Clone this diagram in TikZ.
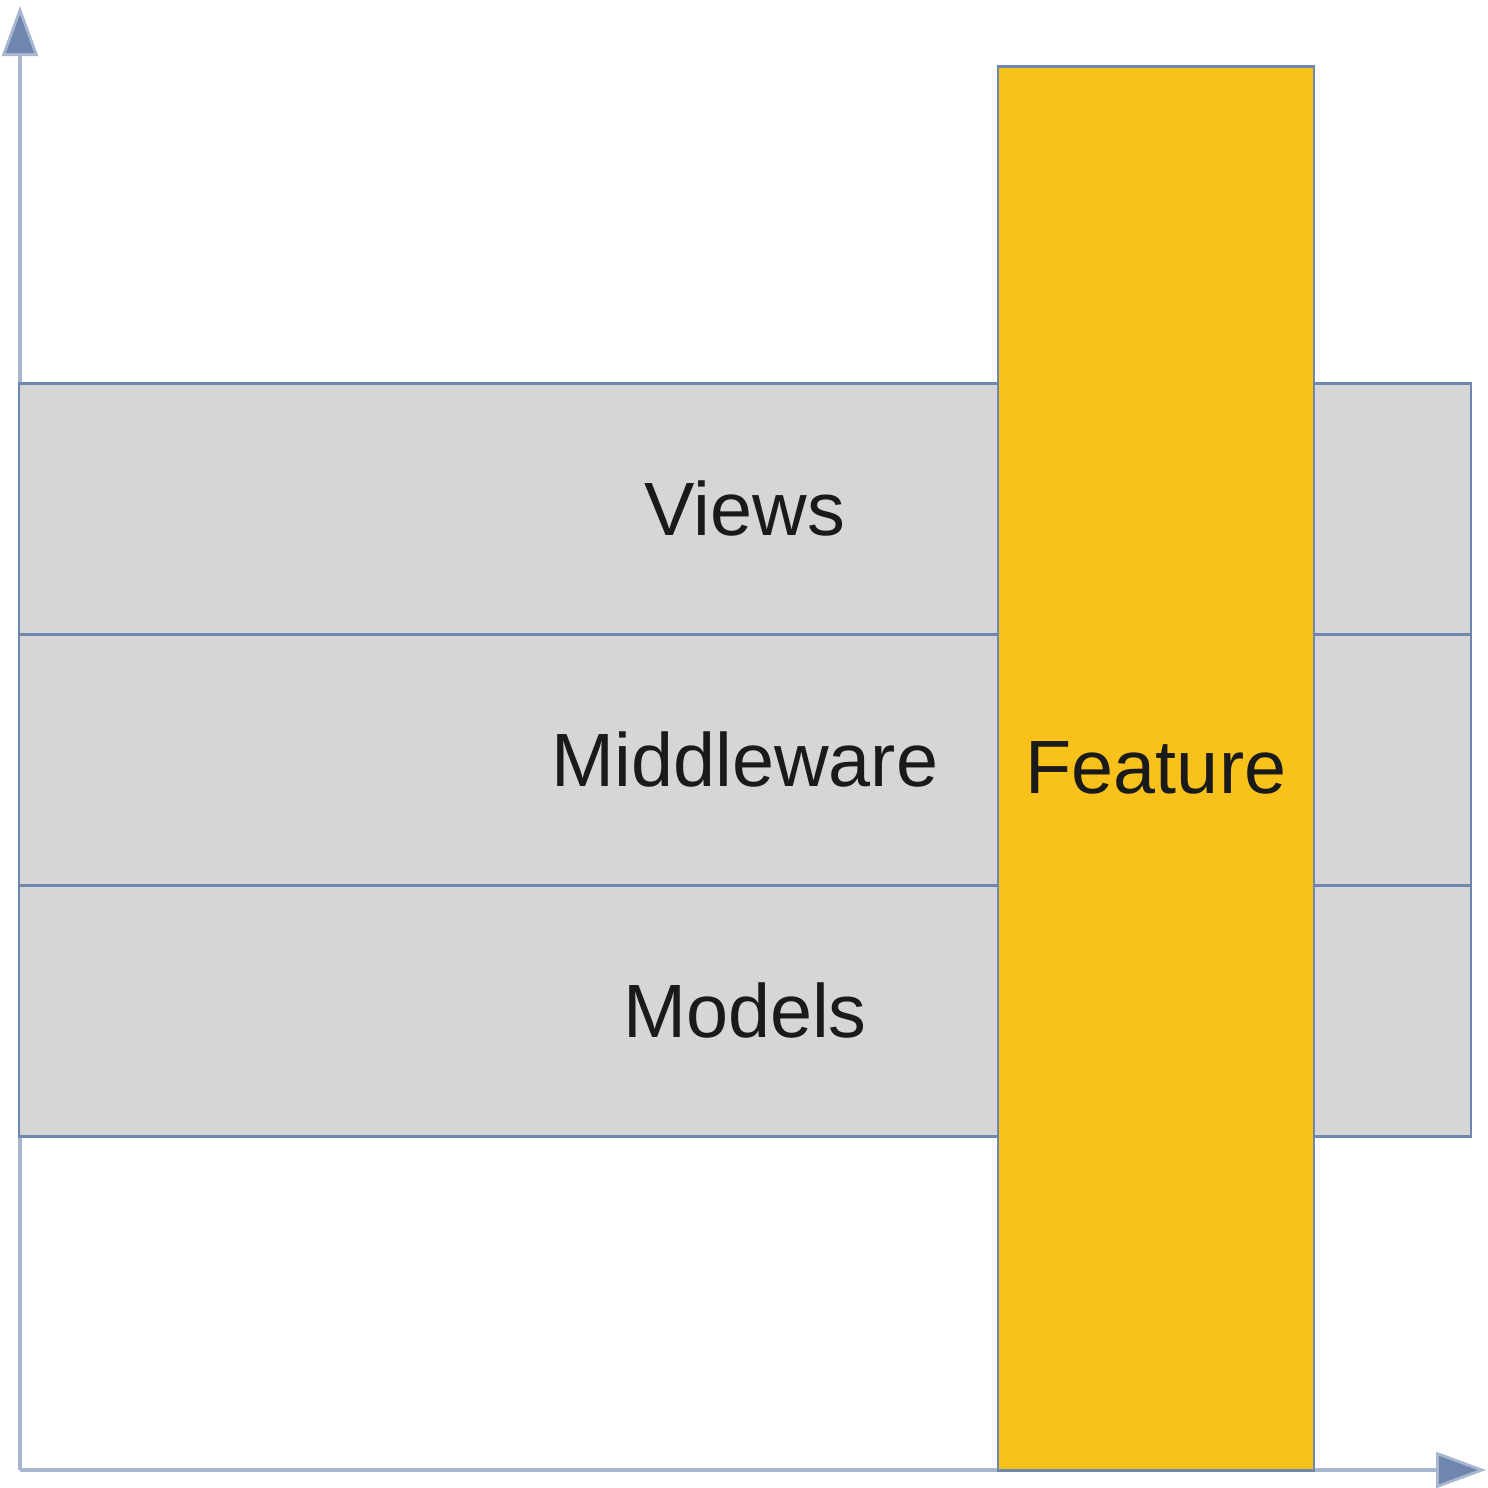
\documentclass[tikz,border=0pt]{standalone}
\usepackage{fontspec}
\setmainfont{Liberation Sans}
\usepackage{tikz}
\usetikzlibrary{arrows.meta,positioning}
\definecolor{layergray}{HTML}{D6D6D6}
\definecolor{featureyellow}{HTML}{F9C21B}
\definecolor{borderblue}{HTML}{6F86AE}
\definecolor{axisblue}{HTML}{A9B6CF}
\definecolor{textdark}{HTML}{1A1A1A}
\tikzstyle{axis}   =[line width=1.2pt, draw=axisblue,
                     -{Triangle[length=0.5cm, width=0.36cm,
                     fill=borderblue, color=axisblue, line width=0.8pt]}]
\tikzstyle{layer}  =[rectangle, draw=borderblue, fill=layergray,
                     line width=0.85pt, minimum width=14.52cm,
                     minimum height=2.51cm, inner sep=0pt, outer sep=0pt]
\tikzstyle{feature}=[rectangle, draw=borderblue, fill=featureyellow,
                     line width=0.85pt, minimum width=3.16cm,
                     minimum height=14.04cm, inner sep=0pt, outer sep=0pt]
\begin{document}
\begin{tikzpicture}[every node/.style={text=textdark,
            font=\fontsize{21.5}{24}\selectfont}, node distance=0pt]
            \useasboundingbox (0,0) rectangle (14.88,-14.88);
            \coordinate (origin) at (0.20,-14.70);
            \coordinate (ytip) at (0.20,-0.06);
            \coordinate (xtip) at (14.86,-14.70);
            \draw[axis] (origin) to (ytip);
            \draw[axis] (origin) to (xtip);

            \node (views) [layer] at (7.45,-5.085) {Views};
            \node (middleware) [layer, below=of views] {Middleware};
            \node (models) [layer, below=of middleware] {Models};
            \node (feature) [feature] at (11.56,-7.68) {Feature};
        \end{tikzpicture}
\end{document}
